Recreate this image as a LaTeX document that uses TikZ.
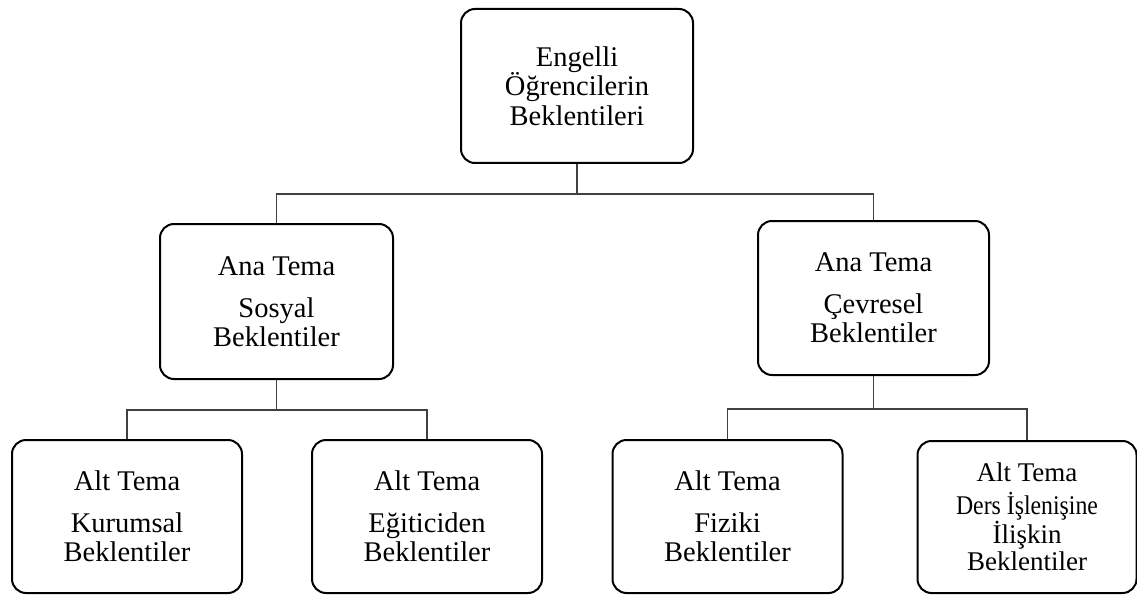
\documentclass[tikz,border=0pt]{standalone}
\usepackage{fontspec}
\setmainfont{Liberation Serif}
\usepackage{graphicx}
\begin{document}
\begin{tikzpicture}[x=1pt,y=-1pt,
  box/.style={draw=black, line width=2pt, rounded corners=14pt, align=center, inner sep=0pt,
    minimum width=230pt, minimum height=153pt, font=\fontsize{28.5}{29}\selectfont},
  link/.style={draw=black!75, line width=1.1pt}]
\useasboundingbox (0,0) rectangle (1137,596);
\node[box, minimum width=232pt, minimum height=154pt, font=\fontsize{28.5}{29.5}\selectfont] (top) at (577,86) {Engelli\\Öğrencilerin\\Beklentileri};
\node[box, minimum width=233pt, minimum height=155pt] (sos) at (276.5,301.5) {Ana Tema\\[13pt]Sosyal\\Beklentiler};
\node[box, minimum width=231pt, minimum height=154pt] (cev) at (873.5,298) {Ana Tema\\[13pt]Çevresel\\Beklentiler};
\node[box] (kur) at (127,516.5) {Alt Tema\\[13pt]Kurumsal\\Beklentiler};
\node[box] (egi) at (427,516.5) {Alt Tema\\[13pt]Eğiticiden\\Beklentiler};
\node[box] (fiz) at (727.5,516.5) {Alt Tema\\[13pt]Fiziki\\Beklentiler};
\node[box, minimum width=219pt, minimum height=152pt, font=\fontsize{27}{27.5}\selectfont] (ders) at (1027,517) {Alt Tema\\[5pt]\scalebox{0.88}[1]{Ders İşlenişine}\\İlişkin\\Beklentiler};
\draw[link] (top.south) -- ++(0,30) coordinate (j1);
\draw[link] (sos.north) |- (j1) -| (cev.north);
\draw[link] (sos.south) -- ++(0,30) coordinate (j2);
\draw[link] (kur.north) |- (j2) -| (egi.north);
\draw[link] (cev.south) -- ++(0,33) coordinate (j3);
\draw[link] (fiz.north) |- (j3) -| (ders.north);
\end{tikzpicture}
\end{document}
